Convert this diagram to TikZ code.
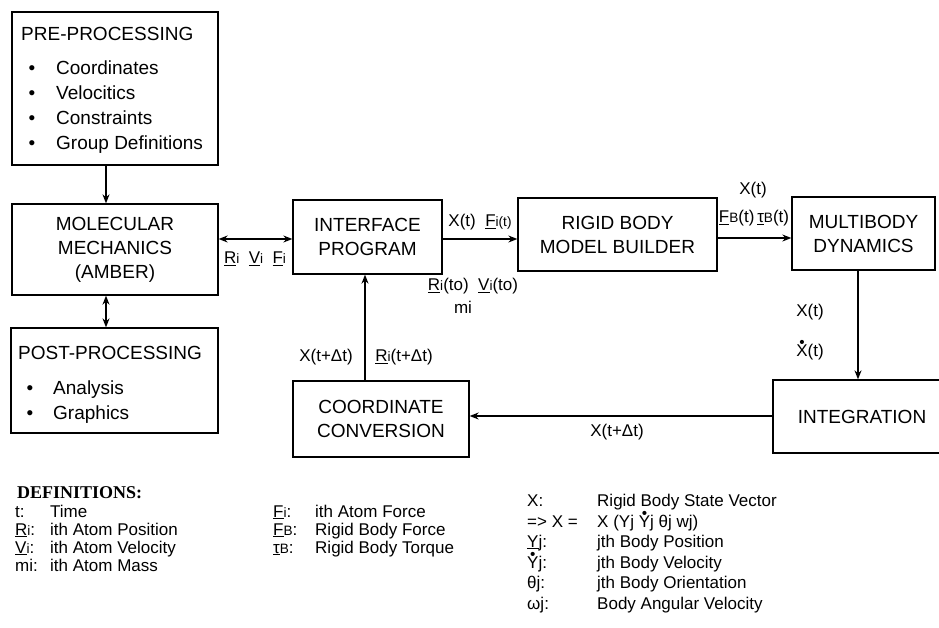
\documentclass[tikz,border=0pt]{standalone}
\usepackage{fontspec}
\setmainfont{Liberation Sans}
\newfontfamily\serifbf{Liberation Serif}
\usepackage{graphicx}
\usetikzlibrary{arrows.meta}
\newsavebox\bdbox
\newcommand{\bdot}[1]{\sbox\bdbox{#1}\rlap{\makebox[\wd\bdbox]{\raisebox{0.72\ht\bdbox}{\scalebox{0.9}{•}}}}\usebox\bdbox}
\newcommand{\uln}[1]{\underline{#1}}
\newcommand{\sml}[1]{\scalebox{0.8}{#1}}
\begin{document}
\begin{tikzpicture}[x=1pt,y=-1pt,
  box/.style={draw, line width=1.3pt, inner sep=0pt, align=center, font=\fontsize{19}{24}\selectfont},
  boxtxt/.style={inner sep=0pt, anchor=base west, font=\fontsize{19}{24}\selectfont},
  bul/.style={inner sep=0pt, anchor=base, font=\fontsize{19}{24}\selectfont},
  arr/.style={line width=1.4pt, -{Stealth[length=9pt,width=7pt]}},
  darr/.style={line width=1.4pt, {Stealth[length=9pt,width=7pt]}-{Stealth[length=9pt,width=7pt]}},
  lbl/.style={inner sep=0pt, font=\fontsize{17}{19}\selectfont},
  deftxt/.style={inner sep=0pt, anchor=base west, font=\fontsize{17}{19}\selectfont}]
\useasboundingbox[fill=white] (0,0) rectangle (939,627);

% ---------- boxes ----------
\node[box, minimum width=206pt, minimum height=153pt] (pre) at (115,88.5) {};
\node[boxtxt] (preT) at (21,40) {PRE-PROCESSING};
\node[bul] (pb1) at (32,74) {•};  \node[boxtxt] (pi1) at (56,74) {Coordinates};
\node[bul] (pb2) at (32,99) {•};  \node[boxtxt] (pi2) at (56,99) {Velocitics};
\node[bul] (pb3) at (32,124) {•}; \node[boxtxt] (pi3) at (56,124) {Constraints};
\node[bul] (pb4) at (32,149) {•}; \node[boxtxt] (pi4) at (56,149) {Group Definitions};

\node[box, minimum width=206pt, minimum height=91pt] (mol) at (115,249.5) {MOLECULAR\\MECHANICS\\(AMBER)};

\node[box, minimum width=207pt, minimum height=105pt] (post) at (114.5,380.5) {};
\node[boxtxt] (postT) at (18,359) {POST-PROCESSING};
\node[bul] (qb1) at (30,394) {•}; \node[boxtxt] (qi1) at (53,394) {Analysis};
\node[bul] (qb2) at (30,419) {•}; \node[boxtxt] (qi2) at (53,419) {Graphics};

\node[box, minimum width=149pt, minimum height=74pt] (iface) at (367.5,237) {INTERFACE\\PROGRAM};
\node[box, minimum width=199pt, minimum height=73pt] (rigid) at (617.5,234.5) {RIGID BODY\\MODEL BUILDER};
\node[box, minimum width=143pt, minimum height=73pt] (multi) at (863.5,233.5) {MULTIBODY\\DYNAMICS};
\node[box, minimum width=178pt, minimum height=73pt] (integ) at (862,416.5) {INTEGRATION};
\node[box, minimum width=176pt, minimum height=76pt] (coord) at (381,419) {COORDINATE\\CONVERSION};

% ---------- connectors ----------
\coordinate (ax) at (106,0);
\coordinate (h1) at (0,239);
\coordinate (h2) at (0,238);
\coordinate (vx) at (858,0);
\coordinate (vx2) at (365,0);
\coordinate (h3) at (0,416);
\draw[arr] (pre.south -| ax) -- (mol.north -| ax);
\draw[darr] (mol.south -| ax) -- (post.north -| ax);
\draw[darr] (mol.east |- h1) -- (iface.west |- h1);
\draw[arr] (iface.east |- h1) -- (rigid.west |- h1);
\draw[arr] (rigid.east |- h2) -- (multi.west |- h2);
\draw[arr] (multi.south -| vx) -- (integ.north -| vx);
\draw[arr] (integ.west |- h3) -- (coord.east |- h3);
\draw[arr] (coord.north -| vx2) -- (iface.south -| vx2);

% ---------- connector labels ----------
\node[lbl] (l1) at (255,259) {\uln{R}\sml{i}\ \ \uln{V}\sml{i}\ \ \uln{F}\sml{i}};
\node[lbl] (l2) at (480,222) {X(t)\ \ \uln{F}\sml{i(t)}};
\node[lbl] (l3) at (473,286) {\uln{R}\sml{i}(to)\ \ \uln{V}\sml{i}(to)};
\node[lbl] (l4) at (463,307) {mi};
\node[lbl] (l5) at (753,190) {X(t)};
\node[lbl] (l6) at (754,218) {\uln{F}\sml{B}(t)\,\uln{τ}\sml{B}(t)};
\node[lbl] (l7) at (810,312) {X(t)};
\node[lbl] (l8) at (810,350) {\bdot{X}(t)};
\node[lbl] (l9) at (326,357) {X(t+Δt)};
\node[lbl] (l10) at (404,357) {\uln{R}\sml{i}(t+Δt)};
\node[lbl] (l11) at (617,432) {X(t+Δt)};

% ---------- definitions ----------
\node[deftxt, font=\serifbf\bfseries\fontsize{18}{19}\selectfont] (dh) at (17,498) {DEFINITIONS:};
\node[deftxt] (d1a) at (15,517) {t:};              \node[deftxt] (d1b) at (50,517) {Time};
\node[deftxt] (d2a) at (15,535) {\uln{R}\sml{i}:}; \node[deftxt] (d2b) at (50,535) {ith Atom Position};
\node[deftxt] (d3a) at (15,553) {\uln{V}\sml{i}:}; \node[deftxt] (d3b) at (50,553) {ith Atom Velocity};
\node[deftxt] (d4a) at (15,571) {mi:};             \node[deftxt] (d4b) at (50,571) {ith Atom Mass};

\node[deftxt] (e1a) at (273,517) {\uln{F}\sml{i}:}; \node[deftxt] (e1b) at (315,517) {ith Atom Force};
\node[deftxt] (e2a) at (273,535) {\uln{F}\sml{B}:}; \node[deftxt] (e2b) at (315,535) {Rigid Body Force};
\node[deftxt] (e3a) at (273,553) {\uln{τ}\sml{B}:}; \node[deftxt] (e3b) at (315,553) {Rigid Body Torque};

\node[deftxt] (f1a) at (527,506) {X:};               \node[deftxt] (f1b) at (597,506) {Rigid Body State Vector};
\node[deftxt] (f2a) at (527,527) {=> X =};           \node[deftxt] (f2b) at (597,527) {X (Yj \bdot{Y}j θj wj)};
\node[deftxt] (f3a) at (527,547) {\uln{Y}j:};        \node[deftxt] (f3b) at (597,547) {jth Body Position};
\node[deftxt] (f4a) at (527,568) {\bdot{Y}j:};       \node[deftxt] (f4b) at (597,568) {jth Body Velocity};
\node[deftxt] (f5a) at (527,588) {θj:};              \node[deftxt] (f5b) at (597,588) {jth Body Orientation};
\node[deftxt] (f6a) at (527,609) {ωj:};              \node[deftxt] (f6b) at (597,609) {Body Angular Velocity};
\end{tikzpicture}
\end{document}
